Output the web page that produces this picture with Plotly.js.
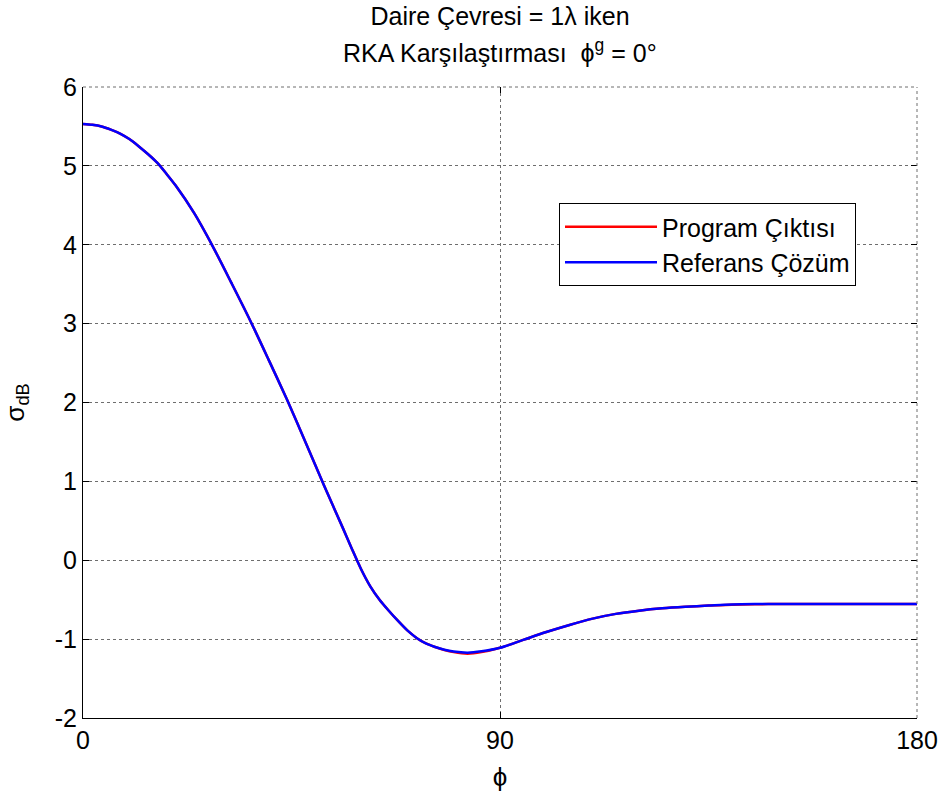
<!DOCTYPE html>
<html>
<head>
<meta charset="utf-8">
<script src="https://cdn.plot.ly/plotly-3.0.1.min.js"></script>
<style>
  html, body { margin: 0; padding: 0; background: #fff; }
  #chart { width: 942px; height: 794px; }
</style>
</head>
<body>
<div id="chart"></div>
<script>
// Observation angle (degrees)
const phi = [0, 2, 4, 6, 8, 10, 12, 14, 16, 18, 20, 24, 28, 32, 36, 40, 44, 48, 52, 56, 58, 60,
             62, 64, 66, 68, 70, 72, 74, 76, 78, 80, 83, 86, 90, 95, 100, 105, 110, 115, 120,
             125, 130, 135, 140, 145, 150, 160, 170, 180];

// Reference solution, sigma in dB
const referans = [5.53, 5.52, 5.50, 5.46, 5.41, 5.34, 5.25, 5.15, 5.04, 4.90, 4.75,
                  4.40, 3.98, 3.52, 3.05, 2.55, 2.04, 1.50, 0.95, 0.42, 0.15, -0.11,
                  -0.33, -0.50, -0.64, -0.77, -0.89, -0.985, -1.055, -1.10, -1.135, -1.158,
                  -1.172, -1.155, -1.11, -1.01, -0.91, -0.82, -0.74, -0.68, -0.64,
                  -0.61, -0.59, -0.575, -0.56, -0.555, -0.555, -0.555, -0.555, -0.555];

// Program output, sigma in dB
const program = [5.53, 5.52, 5.50, 5.46, 5.41, 5.34, 5.25, 5.15, 5.04, 4.90, 4.75,
                 4.40, 3.98, 3.52, 3.05, 2.55, 2.04, 1.50, 0.95, 0.42, 0.15, -0.11,
                 -0.33, -0.50, -0.64, -0.77, -0.89, -0.985, -1.055, -1.10, -1.138, -1.165,
                 -1.185, -1.165, -1.11, -1.01, -0.91, -0.82, -0.74, -0.68, -0.64,
                 -0.61, -0.59, -0.575, -0.565, -0.558, -0.555, -0.555, -0.555, -0.555];

const xTicks = [0, 90, 180];
const yTicks = [-2, -1, 0, 1, 2, 3, 4, 5, 6];

const FONT = 'Liberation Sans, Arial, sans-serif';
const GRID = '#6e6e6e';

const traces = [
  {
    x: phi, y: program, type: 'scatter', mode: 'lines',
    name: 'Program Çıktısı',
    line: { color: '#ff0000', width: 2.5, shape: 'spline', smoothing: 0.8 }
  },
  {
    x: phi, y: referans, type: 'scatter', mode: 'lines',
    name: 'Referans Çözüm',
    line: { color: '#0000ff', width: 2.5, shape: 'spline', smoothing: 0.8 }
  },
  // invisible trace carrying the mirrored top/right tick marks
  {
    x: [0, 180], y: [-2, 6], xaxis: 'x2', yaxis: 'y2', type: 'scatter', mode: 'none',
    showlegend: false, hoverinfo: 'skip'
  }
];

const gridStyle = { showgrid: true, gridcolor: GRID, griddash: 'dot', gridwidth: 1 };

const layout = {
  width: 942, height: 794,
  paper_bgcolor: '#ffffff', plot_bgcolor: '#ffffff',
  margin: { l: 83, r: 25, t: 87, b: 76 },
  font: { family: FONT, size: 25, color: '#000' },
  showlegend: true,
  title: {
    text: 'Daire Çevresi = 1λ iken',
    font: { family: FONT, size: 25, color: '#000' },
    x: 0.5, xref: 'paper', xanchor: 'center',
    y: 1 - 16 / 794, yref: 'container', yanchor: 'middle'
  },
  annotations: [{
    text: 'RKA Karşılaştırması \u00a0ϕ<sup>g</sup> = 0°',
    xref: 'paper', yref: 'paper', x: 0.5, y: 1.057,
    xanchor: 'center', yanchor: 'middle', showarrow: false,
    font: { family: FONT, size: 25, color: '#000' }
  }],
  // dotted top and right edges of the plot frame
  shapes: [
    { type: 'line', xref: 'paper', yref: 'paper', x0: 0, x1: 1, y0: 1, y1: 1,
      line: { color: GRID, width: 1, dash: 'dot' } },
    { type: 'line', xref: 'paper', yref: 'paper', x0: 1, x1: 1, y0: 0, y1: 1,
      line: { color: GRID, width: 1, dash: 'dot' } }
  ],
  xaxis: Object.assign({
    range: [0, 180], tickvals: xTicks, ticktext: xTicks.map(String),
    ticks: 'inside', ticklen: 6, tickcolor: '#000', tickwidth: 1,
    showline: true, linecolor: '#000', linewidth: 1, zeroline: false,
    tickfont: { family: FONT, size: 25, color: '#000' },
    title: { text: 'ϕ', font: { family: FONT, size: 26, color: '#000' }, standoff: 14 }
  }, gridStyle),
  yaxis: Object.assign({
    range: [-2, 6], tickvals: yTicks, ticktext: yTicks.map(String),
    ticks: 'inside', ticklen: 6, tickcolor: '#000', tickwidth: 1,
    showline: true, linecolor: '#000', linewidth: 1, zeroline: false,
    tickfont: { family: FONT, size: 25, color: '#000' },
    title: { text: 'σ<sub>dB</sub>', font: { family: FONT, size: 26, color: '#000' }, standoff: 29 }
  }, gridStyle),
  xaxis2: {
    overlaying: 'x', side: 'top', range: [0, 180], tickvals: xTicks,
    ticks: 'inside', ticklen: 6, tickcolor: '#000', showticklabels: false,
    showgrid: false, zeroline: false, showline: false
  },
  yaxis2: {
    overlaying: 'y', side: 'right', range: [-2, 6], tickvals: yTicks,
    ticks: 'inside', ticklen: 6, tickcolor: '#000', showticklabels: false,
    showgrid: false, zeroline: false, showline: false
  },
  legend: {
    x: (559 - 83) / 834, y: (718 - 203) / 631, xanchor: 'left', yanchor: 'top',
    bgcolor: '#ffffff', bordercolor: '#000', borderwidth: 1,
    font: { family: FONT, size: 25, color: '#000' },
    itemwidth: 92, tracegroupgap: 0
  }
};

Plotly.newPlot('chart', traces, layout, { staticPlot: true, displayModeBar: false });
</script>
</body>
</html>
